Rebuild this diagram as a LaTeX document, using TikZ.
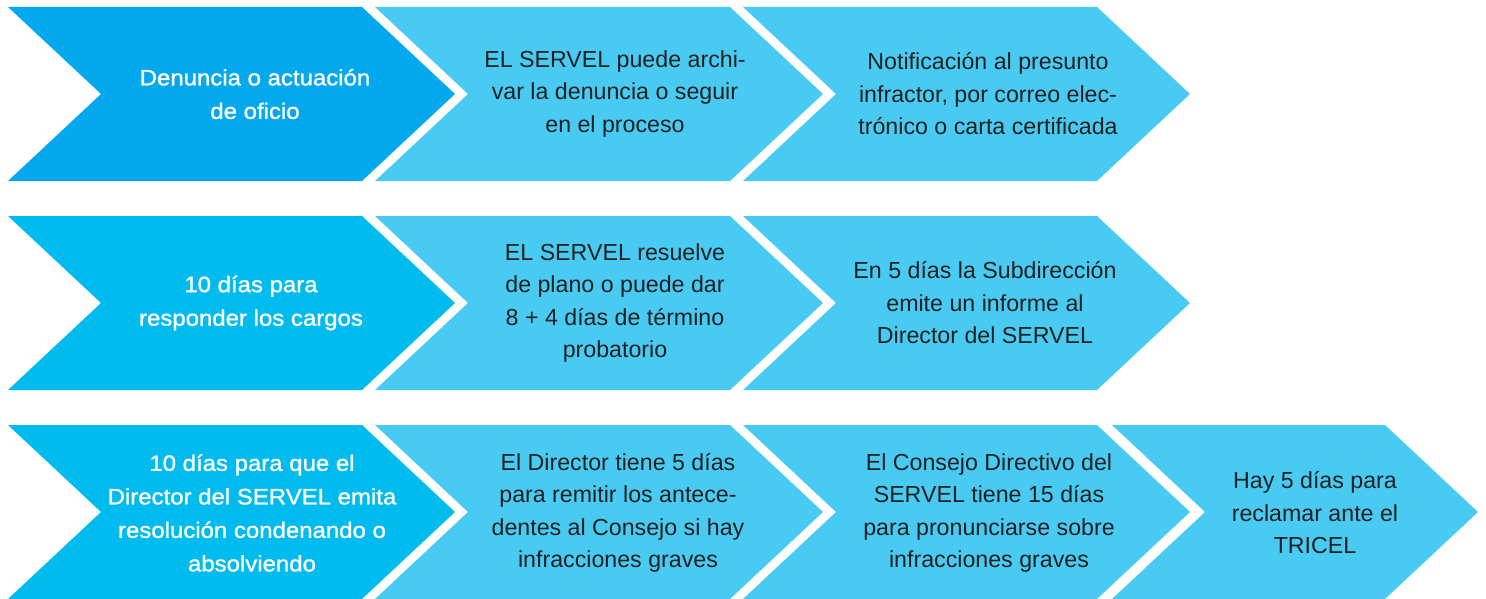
\documentclass[tikz,border=0pt]{standalone}
\usepackage{fontspec}
\setmainfont{Liberation Sans}
\newfontfamily\medfont{Liberation Sans}[FakeBold=1.2,FakeStretch=1.075]
\definecolor{cdeep}{HTML}{03A9EC}
\definecolor{cmid}{HTML}{00BBED}
\definecolor{clight}{HTML}{48CAF3}
\definecolor{ctext}{HTML}{212121}
\newcommand{\chevshape}[5]{%
  \fill[#5] (#1,#2) -- (#3,#2) -- ({#3+93},{(#2+#4)/2}) -- (#3,#4) -- (#1,#4) -- ({#1+93},{(#2+#4)/2}) -- cycle;}
\tikzset{
  darklabel/.style={align=center, text=ctext, font=\fontsize{23.2}{32.5}\selectfont, inner sep=0pt},
  whitelabel/.style={align=center, text=white, font=\medfont\fontsize{22.3}{33.5}\selectfont, inner sep=0pt},
}
\begin{document}
\begin{tikzpicture}[x=1pt,y=-1pt]
\useasboundingbox (0,0) rectangle (1486,599);
% row 1
\chevshape{8}{7}{362}{181}{cdeep}
\chevshape{375}{7}{730}{181}{clight}
\chevshape{743}{7}{1097}{181}{clight}
% row 2
\chevshape{8}{216}{362}{390}{cmid}
\chevshape{375}{216}{730}{390}{clight}
\chevshape{743}{216}{1097}{390}{clight}
% row 3
\chevshape{8}{425}{362}{599}{cmid}
\chevshape{375}{425}{730}{599}{clight}
\chevshape{743}{425}{1097}{599}{clight}
\chevshape{1112}{425}{1385}{599}{clight}
% texts
\node[whitelabel] (a1) at (255,94) {Denuncia o actuación\\de oficio};
\node[darklabel] (a2) at (615,94) {EL SERVEL puede archi-\\var la denuncia o seguir\\en el proceso};
\node[darklabel] (a3) at (988,94) {Notificación al presunto\\infractor, por correo elec-\\trónico o carta certificada};
\node[whitelabel] (b1) at (251,303) {10 días para\\responder los cargos};
\node[darklabel] (b2) at (615,303) {EL SERVEL resuelve\\de plano o puede dar\\8 + 4 días de término\\probatorio};
\node[darklabel] (b3) at (985,303) {En 5 días la Subdirección\\emite un informe al\\Director del SERVEL};
\node[whitelabel] (c1) at (252,513) {10 días para que el\\Director del SERVEL emita\\resolución condenando o\\absolviendo};
\node[darklabel] (c2) at (618,513) {El Director tiene 5 días\\para remitir los antece-\\dentes al Consejo si hay\\infracciones graves};
\node[darklabel] (c3) at (989,513) {El Consejo Directivo del\\SERVEL tiene 15 días\\para pronunciarse sobre\\infracciones graves};
\node[darklabel] (c4) at (1315,513) {Hay 5 días para\\reclamar ante el\\TRICEL};
\end{tikzpicture}
\end{document}
